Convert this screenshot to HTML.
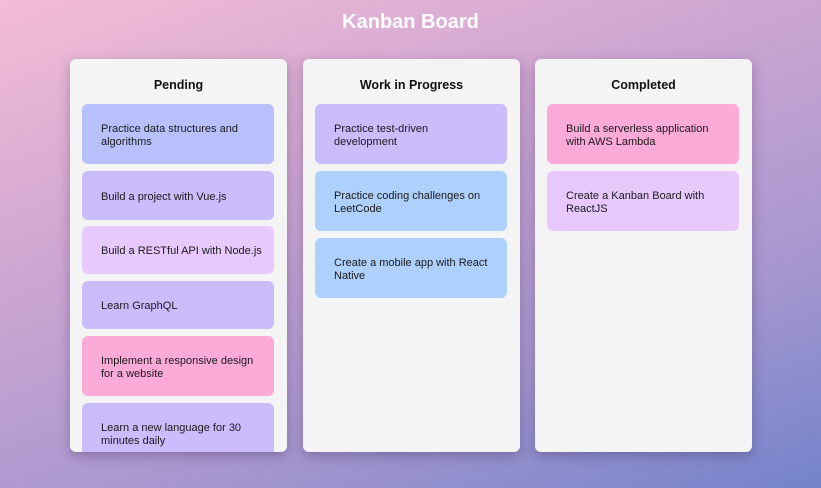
<!DOCTYPE html>
<html><head><style>
*{margin:0;padding:0;box-sizing:border-box}
body{width:821px;height:488px;overflow:hidden;font-family:"Liberation Sans",sans-serif;background:linear-gradient(160deg,#f4bdd6 0%,#cfa6d2 35%,#a797cf 70%,#7483cb 100%);position:relative}
h1{position:absolute;top:11px;left:0;width:821px;text-align:center;color:#fff;font-size:20px;font-weight:bold}
.col{position:absolute;top:59px;width:217px;height:393px;background:#f4f4f4;border-radius:6px;box-shadow:0 4px 12px rgba(60,40,90,.35);overflow:hidden}
.col h2{position:absolute;font-size:12.5px;text-align:center;width:100%;top:19px;color:#111}
.card{position:absolute;left:12px;width:192px;border-radius:6px;padding:3px 10px 0 19px;font-size:11px;line-height:13px;color:#1a1a1a;display:flex;align-items:center}
.b{background:#b8c1fe}.p{background:#cbbcfd}.l{background:#e8c9fd}.k{background:#fcaad8}.s{background:#aed0fd}
</style></head><body>
<h1>Kanban Board</h1>
<div class="col" style="left:70px"><h2>Pending</h2>
<div class="card b" style="top:45px;height:60px">Practice data structures and<br>algorithms</div>
<div class="card p" style="top:112px;height:49px">Build a project with Vue.js</div>
<div class="card l" style="top:167px;height:48px">Build a RESTful API with Node.js</div>
<div class="card p" style="top:222px;height:48px">Learn GraphQL</div>
<div class="card k" style="top:277px;height:60px">Implement a responsive design<br>for a website</div>
<div class="card p" style="top:344px;height:60px">Learn a new language for 30<br>minutes daily</div>
</div>
<div class="col" style="left:303px"><h2>Work in Progress</h2>
<div class="card p" style="top:45px;height:60px">Practice test-driven<br>development</div>
<div class="card s" style="top:112px;height:60px">Practice coding challenges on<br>LeetCode</div>
<div class="card s" style="top:179px;height:60px">Create a mobile app with React<br>Native</div>
</div>
<div class="col" style="left:535px"><h2>Completed</h2>
<div class="card k" style="top:45px;height:60px">Build a serverless application<br>with AWS Lambda</div>
<div class="card l" style="top:112px;height:60px">Create a Kanban Board with<br>ReactJS</div>
</div>
</body></html>
